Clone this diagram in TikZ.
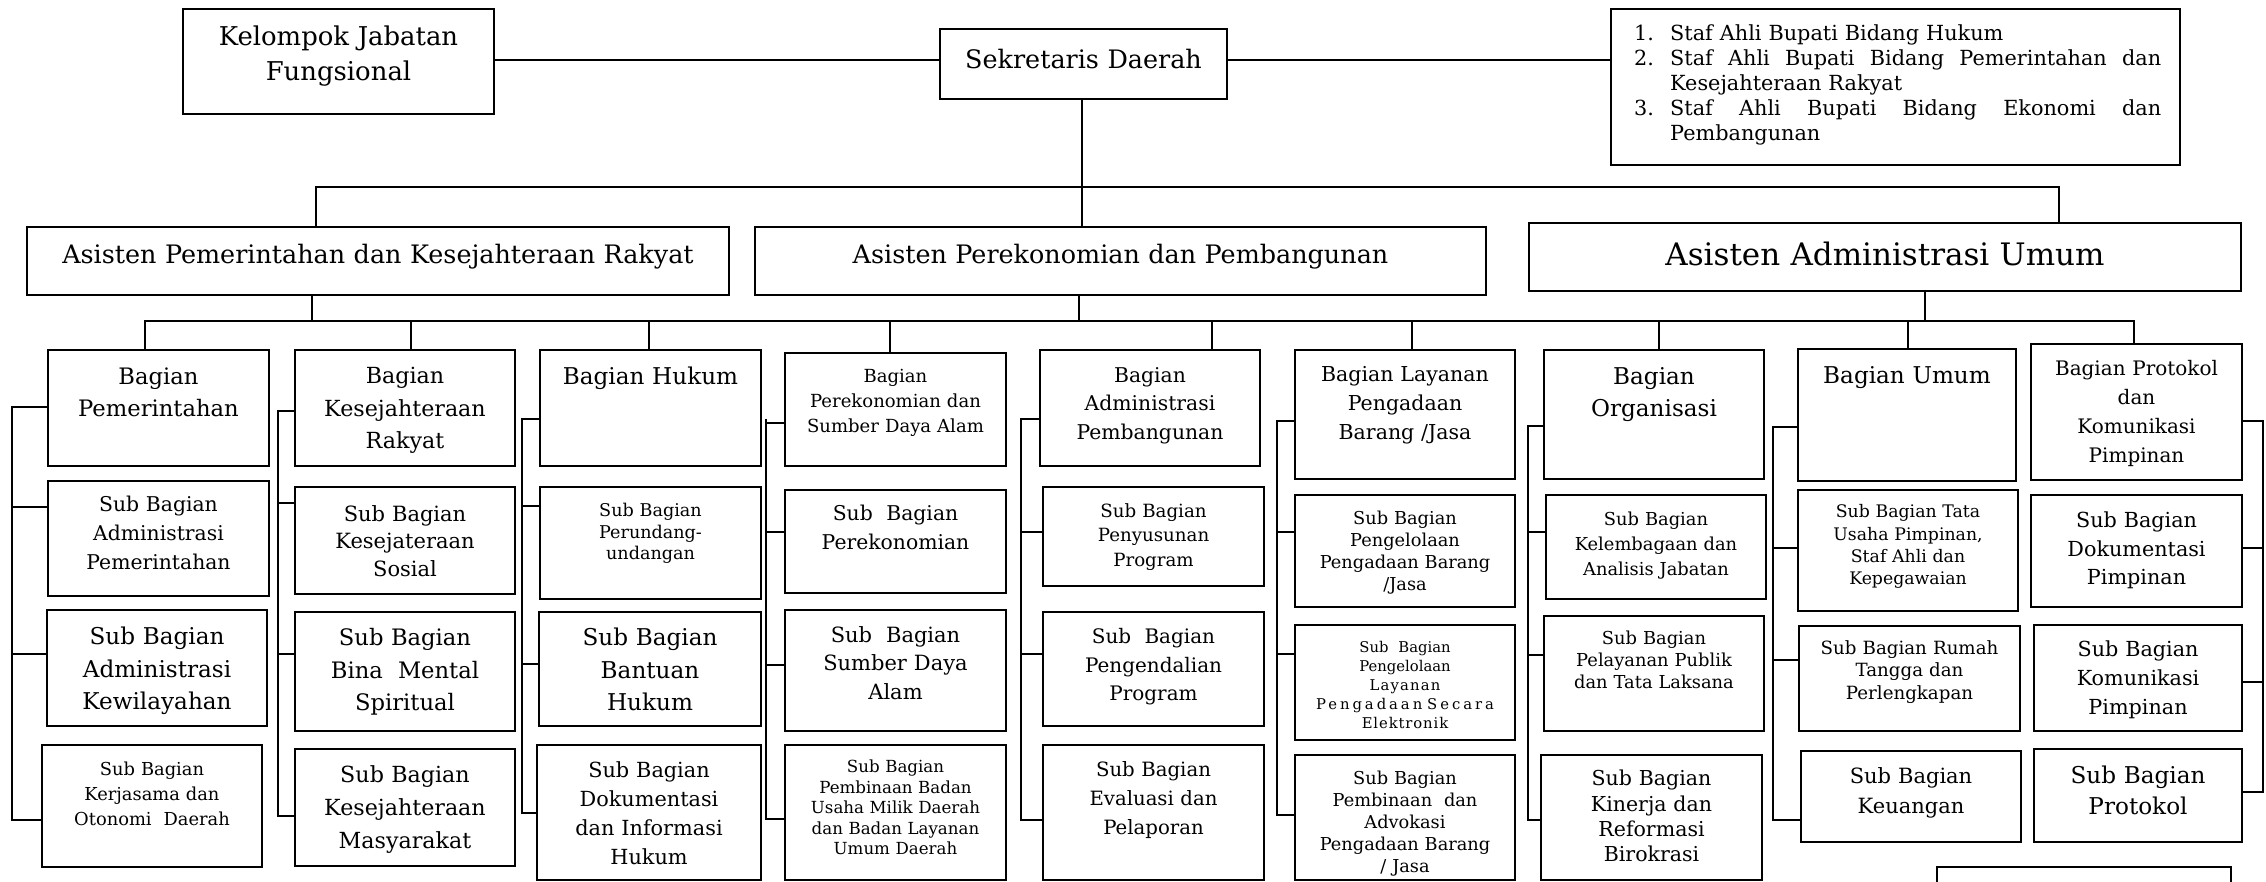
\documentclass[tikz,border=0pt]{standalone}
\usepackage{fontspec}
\setmainfont{DejaVu Serif}
\tikzset{
  ob/.style={draw, line width=1.8pt, inner sep=0pt, outer sep=0pt},
  ot/.style={inner sep=0pt, align=center},
  ln/.style={line width=1.8pt, line cap=rect},
}
\newcommand\fsc{0.925}
\newcommand\obox[9]{%
  \pgfmathsetmacro\ow{#4-#2}\pgfmathsetmacro\oh{#5-#3}%
  \pgfmathsetmacro\ocx{(#2+#4)/2}\pgfmathsetmacro\ocy{(#3+#5)/2}%
  \pgfmathsetmacro\otw{#4-#2-6}\pgfmathsetmacro\oty{#8-0.4*#6}%
  \pgfmathsetmacro\ofs{#6*\fsc}%
  \node[ob, minimum width=\ow pt, minimum height=\oh pt] (#1) at (\ocx,\ocy) {};
  \node[ot, text width=\otw pt, font=\fontsize{\ofs}{#7}\selectfont, anchor=north] at (\ocx,\oty) {#9};
}
\newcommand\ls[2]{{\addfontfeature{LetterSpace=#1}#2}}
\begin{document}
\begin{tikzpicture}[x=1pt,y=-1pt]
\useasboundingbox (0,0) rectangle (2266,881);
% top level
\obox{kel}{183}{9}{494}{114}{28}{35}{37}{Kelompok Jabatan\\Fungsional}
\obox{sek}{940}{29}{1227}{99}{27.5}{33}{60}{Sekretaris Daerah}
\obox{staf}{1611}{9}{2180}{165}{22}{25}{33}{}
\node[inner sep=0pt, anchor=north west, align=left, text width=527pt, font=\fontsize{20.8}{25}\selectfont] (staftxt) at (1634,24) {%
\makebox[36pt][l]{1.}Staf Ahli Bupati Bidang Hukum\\
\makebox[36pt][l]{2.}\hbox to 491pt{Staf\hfill Ahli\hfill Bupati\hfill Bidang\hfill Pemerintahan\hfill dan}\\
\hspace*{36pt}Kesejahteraan Rakyat\\
\makebox[36pt][l]{3.}\hbox to 491pt{Staf\hfill Ahli\hfill Bupati\hfill Bidang\hfill Ekonomi\hfill dan}\\
\hspace*{36pt}Pembangunan};
\coordinate (kq) at (494,60);
\draw[ln] (kel.east |- kq) -- (kq -| sek.west);
\coordinate (sq) at (1227,60);
\draw[ln] (sek.east |- sq) -- (sq -| staf.west);
% asisten
\obox{ap1}{27}{227}{729}{295}{27.5}{33}{255}{Asisten Pemerintahan dan Kesejahteraan Rakyat}
\obox{ap2}{755}{227}{1486}{295}{27.5}{33}{255}{Asisten Perekonomian dan Pembangunan}
\obox{ap3}{1529}{223}{2241}{291}{33.5}{38}{255}{Asisten Administrasi Umum}
\coordinate (barL) at (316,187);
\coordinate (barR) at (2059,187);
\coordinate (sekx) at (1082,187);
\draw[ln] (sek.south -| sekx) -- (sekx |- ap2.north);
\draw[ln] (barL |- ap1.north) -- (barL) -- (barR) -- (barR |- ap3.north);
% bagian row
\obox{b1}{48}{350}{269}{466}{24.5}{32}{377}{Bagian\\Pemerintahan}
\obox{s11}{48}{481}{269}{596}{22}{29}{505}{Sub Bagian\\Administrasi\\Pemerintahan}
\obox{s12}{47}{610}{267}{726}{25}{32.5}{637}{Sub Bagian\\Administrasi\\Kewilayahan}
\obox{s13}{42}{745}{262}{867}{19.3}{25}{769}{Sub Bagian\\Kerjasama dan\\Otonomi\ \ Daerah}

\obox{b2}{295}{350}{515}{466}{24}{32.5}{377}{Bagian\\Kesejahteraan\\Rakyat}
\obox{s21}{295}{487}{515}{594}{22.7}{27.5}{514}{Sub Bagian\\Kesejateraan\\Sosial}
\obox{s22}{295}{612}{515}{731}{24.5}{32.5}{638}{Sub Bagian\\Bina\ \ Mental\\Spiritual}
\obox{s23}{295}{749}{515}{866}{24}{33}{775}{Sub Bagian\\Kesejahteraan\\Masyarakat}

\obox{b3}{540}{350}{761}{466}{25}{32}{377}{Bagian Hukum}
\obox{s31}{540}{487}{761}{599}{19}{21.5}{511}{Sub Bagian\\Perundang-\\undangan}
\obox{s32}{539}{612}{761}{726}{25}{32.5}{638}{Sub Bagian\\Bantuan\\Hukum}
\obox{s33}{537}{745}{761}{880}{22.5}{29}{770}{Sub Bagian\\Dokumentasi\\dan Informasi\\Hukum}

\obox{b4}{785}{353}{1006}{466}{19.5}{25}{377}{Bagian\\Perekonomian dan\\Sumber Daya Alam}
\obox{s41}{785}{490}{1006}{593}{22}{29}{514}{Sub\ \ Bagian\\Perekonomian}
\obox{s42}{785}{610}{1006}{731}{22.7}{28.5}{635}{Sub\ \ Bagian\\Sumber Daya\\Alam}
\obox{s43}{785}{745}{1006}{880}{18}{20.5}{767}{Sub Bagian\\Pembinaan Badan\\Usaha Milik Daerah\\dan Badan Layanan\\Umum Daerah}

\obox{b5}{1040}{350}{1260}{466}{22}{28.5}{376}{Bagian\\Administrasi\\Pembangunan}
\obox{s51}{1043}{487}{1264}{586}{19.7}{24.5}{511}{Sub Bagian\\Penyusunan\\Program}
\obox{s52}{1043}{612}{1264}{726}{21.6}{28.5}{637}{Sub\ \ Bagian\\Pengendalian\\Program}
\obox{s53}{1043}{745}{1264}{880}{21.3}{29}{770}{Sub Bagian\\Evaluasi dan\\Pelaporan}

\obox{b6}{1295}{350}{1515}{479}{22.2}{29}{375}{Bagian Layanan\\Pengadaan\\Barang /Jasa}
\obox{s61}{1295}{495}{1515}{607}{19.2}{22.3}{518}{Sub Bagian\\Pengelolaan\\Pengadaan Barang\\/Jasa}
\obox{s62}{1295}{625}{1515}{740}{16}{19}{647}{Sub\ \ Bagian\\Pengelolaan\\\ls{8}{Layanan}\\\ls{20}{Pengadaan Secara}\\\ls{6}{Elektronik}}
\obox{s63}{1295}{755}{1515}{880}{19.2}{22}{778}{Sub Bagian\\Pembinaan\ \ dan\\Advokasi\\Pengadaan Barang\\/ Jasa}

\obox{b7}{1544}{350}{1764}{479}{25}{32}{377}{Bagian\\Organisasi}
\obox{s71}{1546}{495}{1766}{599}{19.3}{25}{519}{Sub Bagian\\Kelembagaan dan\\Analisis Jabatan}
\obox{s72}{1544}{616}{1764}{731}{19.3}{22}{638}{Sub Bagian\\Pelayanan Publik\\dan Tata Laksana}
\obox{s73}{1541}{755}{1762}{880}{22.2}{25.3}{779}{Sub Bagian\\Kinerja dan\\Reformasi\\Birokrasi}

\obox{b8}{1798}{349}{2016}{481}{25}{32}{376}{Bagian Umum}
\obox{s81}{1798}{490}{2018}{611}{18.7}{22.3}{512}{Sub Bagian Tata\\Usaha Pimpinan,\\Staf Ahli dan\\Kepegawaian}
\obox{s82}{1799}{626}{2020}{731}{19.7}{22.5}{648}{Sub Bagian Rumah\\Tangga dan\\Perlengkapan}
\obox{s83}{1801}{751}{2021}{842}{22.7}{30}{776}{Sub Bagian\\Keuangan}

\obox{b9}{2031}{344}{2242}{480}{21.6}{29}{369}{Bagian Protokol\\dan\\Komunikasi\\Pimpinan}
\obox{s91}{2031}{495}{2242}{607}{22.4}{28.5}{521}{Sub Bagian\\Dokumentasi\\Pimpinan}
\obox{s92}{2034}{625}{2242}{731}{22.4}{29}{650}{Sub Bagian\\Komunikasi\\Pimpinan}
\obox{s93}{2034}{749}{2242}{842}{25}{31}{776}{Sub Bagian\\Protokol}

\node[ob, minimum width=294pt, minimum height=80pt] (extra) at (2084,907) {};

% lower bar
\coordinate (lbL) at (145,321);
\coordinate (lbR) at (2134,321);
\draw[ln] (lbL) -- (lbR);
\foreach \xx/\n in {312/ap1,1079/ap2,1925/ap3}{
  \coordinate (tmp) at (\xx,321);
  \draw[ln] (tmp |- \n.south) -- (tmp);
}
\foreach \xx/\n in {145/b1,411/b2,649/b3,890/b4,1212/b5,1412/b6,1659/b7,1908/b8,2134/b9}{
  \coordinate (tmp) at (\xx,321);
  \draw[ln] (tmp) -- (tmp |- \n.north);
}
% spines
\newcommand\spine[4]{%
  \coordinate (spa) at (#1,#2); \coordinate (spb) at (#1,#3);
  \draw[ln] (spa) -- (spb);
  \foreach \n/\yy in {#4}{
    \coordinate (tmp) at (#1,\yy);
    \draw[ln] (tmp) -- (tmp -| \n.west);
  }}
\spine{12}{407}{820}{b1/407,s11/507,s12/654,s13/820}
\spine{278}{411}{816}{b2/411,s21/503,s22/654,s23/816}
\spine{522}{419}{813}{b3/419,s31/506,s32/664,s33/813}
\spine{766}{420}{819}{b4/423,s41/532,s42/665,s43/819}
\spine{1021}{419}{820}{b5/419,s51/532,s52/654,s53/820}
\spine{1277}{421}{815}{b6/421,s61/532,s62/654,s63/815}
\spine{1528}{426}{820}{b7/426,s71/532,s72/655,s73/820}
\spine{1773}{427}{820}{b8/427,s81/548,s82/660,s83/820}
\coordinate (rsa) at (2263,421); \coordinate (rsb) at (2263,792);
\draw[ln] (rsa) -- (rsb);
\foreach \n/\yy in {b9/421,s91/548,s92/682,s93/792}{
  \coordinate (tmp) at (2263,\yy);
  \draw[ln] (tmp) -- (tmp -| \n.east);
}
\end{tikzpicture}
\end{document}
